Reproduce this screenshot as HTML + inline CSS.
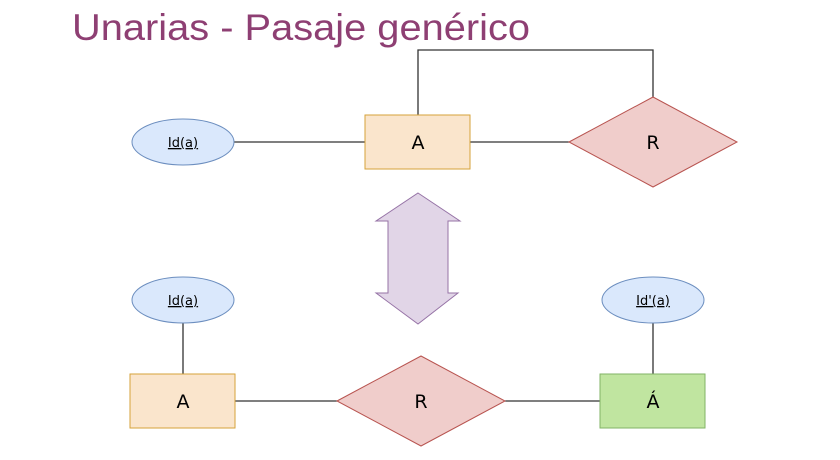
<!DOCTYPE html>
<html><head><meta charset="utf-8"><style>
html,body{margin:0;padding:0;background:#fff;width:840px;height:460px;overflow:hidden}
</style></head><body>
<svg width="840" height="460" viewBox="0 0 840 460" xmlns="http://www.w3.org/2000/svg" font-family="'DejaVu Sans', 'Liberation Sans', sans-serif">
<text x="72" y="40" font-family="'Liberation Sans', sans-serif" font-size="37" fill="#8e3f73" textLength="458" lengthAdjust="spacingAndGlyphs">Unarias - Pasaje genérico</text>
<g stroke="#333" stroke-width="1.3" fill="none">
<line x1="234" y1="142" x2="365" y2="142"/>
<line x1="470" y1="142" x2="569" y2="142"/>
<polyline points="418,115 418,50 653,50 653,97"/>
<line x1="183" y1="323" x2="183" y2="374"/>
<line x1="235" y1="401" x2="337" y2="401"/>
<line x1="505" y1="401" x2="600" y2="401"/>
<line x1="653" y1="323" x2="653" y2="374"/>
</g>
<ellipse cx="183" cy="142" rx="51" ry="23" fill="#dae8fc" stroke="#6c8ebf"/>
<text x="183" y="147" font-size="13" text-anchor="middle" text-decoration="underline">Id(a)</text>
<rect x="365" y="115" width="105" height="54" fill="#fae5cc" stroke="#d6a23a"/>
<text x="418" y="149" font-size="19" text-anchor="middle">A</text>
<polygon points="569,142 653,97 737,142 653,187" fill="#f0cdcb" stroke="#b85450"/>
<text x="653" y="149" font-size="19" text-anchor="middle">R</text>
<polygon points="418,193 460,221 448,221 448,293 458,293 418,324 376,293 388,293 388,221 376,221" fill="#e1d5e7" stroke="#9673a6"/>
<ellipse cx="183" cy="300" rx="51" ry="23" fill="#dae8fc" stroke="#6c8ebf"/>
<text x="183" y="305" font-size="13" text-anchor="middle" text-decoration="underline">Id(a)</text>
<rect x="130" y="374" width="105" height="54" fill="#fae5cc" stroke="#d6a23a"/>
<text x="183" y="408" font-size="19" text-anchor="middle">A</text>
<polygon points="337,401 421,356 505,401 421,446" fill="#f0cdcb" stroke="#b85450"/>
<text x="421" y="408" font-size="19" text-anchor="middle">R</text>
<rect x="600" y="374" width="105" height="54" fill="#c0e5a0" stroke="#82b366"/>
<text x="653" y="408" font-size="19" text-anchor="middle">Á</text>
<ellipse cx="653" cy="300" rx="51" ry="23" fill="#dae8fc" stroke="#6c8ebf"/>
<text x="653" y="305" font-size="13" text-anchor="middle" text-decoration="underline">Id'(a)</text>
</svg>
</body></html>
